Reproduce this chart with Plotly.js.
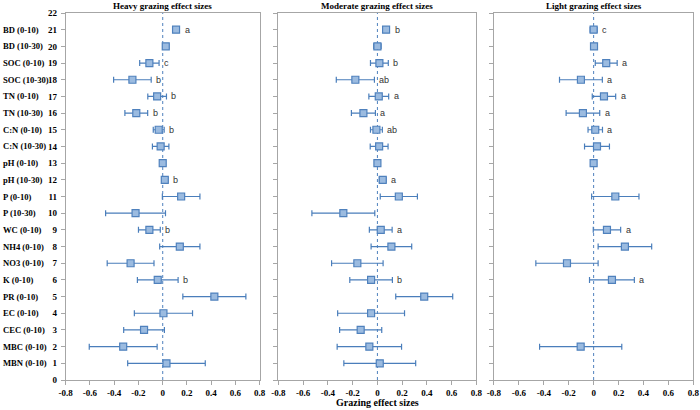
<!DOCTYPE html>
<html>
<head>
<meta charset="utf-8">
<script src="https://cdn.plot.ly/plotly-3.0.1.min.js"></script>
<style>
html,body{margin:0;padding:0;background:#fff;}
#chart{width:700px;height:410px;}
</style>
</head>
<body>
<div id="chart"></div>
<script>
// Rows listed from top (21) to bottom (1)
const rowNumbers = [21,20,19,18,17,16,15,14,13,12,11,10,9,8,7,6,5,4,3,2,1];
const categories = ["BD (0-10)","BD (10-30)","SOC (0-10)","SOC (10-30)","TN (0-10)","TN (10-30)",
  "C:N (0-10)","C:N (10-30)","pH (0-10)","pH (10-30)","P (0-10)","P (10-30)","WC (0-10)",
  "NH4 (0-10)","NO3 (0-10)","K (0-10)","PR (0-10)","EC (0-10)","CEC (0-10)","MBC (0-10)","MBN (0-10)"];

const heavyValues = [0.11,0.025,-0.11,-0.25,-0.046,-0.218,-0.033,-0.017,0.0,0.017,0.152,-0.224,-0.11,0.141,-0.265,-0.041,0.426,0.006,-0.154,-0.326,0.031];
const heavyErrors = [0.0,0.025,0.08,0.155,0.077,0.094,0.045,0.068,0.005,0.025,0.155,0.247,0.09,0.166,0.193,0.168,0.26,0.24,0.168,0.28,0.32];
const heavyLetters = ["a","","c","b","b","b","b","","","b","","","b","","","b","","","","",""];

const moderateValues = [0.07,0.0,0.016,-0.178,0.011,-0.113,-0.008,0.014,0.0,0.043,0.173,-0.275,0.027,0.113,-0.162,-0.051,0.378,-0.051,-0.135,-0.065,0.019];
const moderateErrors = [0.0,0.03,0.072,0.154,0.08,0.097,0.048,0.072,0.005,0.027,0.15,0.254,0.092,0.164,0.208,0.172,0.23,0.27,0.17,0.26,0.29];
const moderateLetters = ["b","","b","ab","a","a","ab","","","a","","","a","","","b","","","","",""];

const lightValues = [0.0,0.003,0.101,-0.102,0.083,-0.086,0.013,0.027,0.0,null,0.174,null,0.107,0.251,-0.214,0.147,null,null,null,-0.104,null];
const lightErrors = [0.028,0.015,0.088,0.172,0.094,0.135,0.058,0.1,0.005,null,0.19,null,0.11,0.215,0.25,0.18,null,null,null,0.33,null];
const lightLetters = ["c","","a","a","a","a","a","","","","","","a","","","a","","","","",""];

const panelTitles = ["Heavy grazing effect sizes","Moderate grazing effect sizes","Light grazing effect sizes"];
const xTitle = "Grazing effect sizes";
const xTickVals = [-0.8,-0.6,-0.4,-0.2,0,0.2,0.4,0.6,0.8];
const xTickText = ["-0.8","-0.6","-0.4","-0.2","0","0.2","0.4","0.6","0.8"];
const yTickVals = [0,1,2,3,4,5,6,7,8,9,10,11,12,13,14,15,16,17,18,19,20,21,22];

const panels = [
  {v: heavyValues, e: heavyErrors, l: heavyLetters},
  {v: moderateValues, e: moderateErrors, l: moderateLetters},
  {v: lightValues, e: lightErrors, l: lightLetters}
];
const domains = [[0.0939,0.3710],[0.3976,0.6807],[0.7057,0.9904]];

const serif = "Liberation Serif, Times New Roman, serif";
const sans = "Liberation Sans, Arial, sans-serif";
const frameColor = "#a6a6a6";

const traces = [];
const annotations = [];
const shapes = [];
const layout = {
  width: 700, height: 410,
  margin: {l: 0, r: 0, t: 13, b: 30, pad: 0},
  paper_bgcolor: "#ffffff", plot_bgcolor: "#ffffff",
  showlegend: false
};

panels.forEach((p, i) => {
  const sfx = i === 0 ? "" : String(i + 1);
  traces.push({
    type: "scatter", mode: "markers",
    x: p.v, y: rowNumbers,
    xaxis: "x" + sfx, yaxis: "y" + sfx,
    marker: {symbol: "square", size: 7, color: "#9bbbe0", line: {color: "#4f81bd", width: 1.2}},
    error_x: {type: "data", array: p.e, visible: true, color: "#4a7ebb", thickness: 1.2, width: 3},
    hoverinfo: "skip"
  });
  layout["xaxis" + sfx] = {
    domain: domains[i], range: [-0.8, 0.8], anchor: "y" + sfx,
    tickmode: "array", tickvals: xTickVals, ticktext: xTickText,
    showgrid: false, zeroline: false, showline: true, mirror: true,
    linecolor: frameColor, linewidth: 1,
    ticks: "outside", ticklen: 4, tickcolor: frameColor,
    tickfont: {family: serif, size: 9, color: "#000", weight: "bold"}
  };
  layout["yaxis" + sfx] = {
    domain: [0, 1], range: [0, 22], anchor: "x" + sfx,
    tickmode: "array", tickvals: yTickVals,
    showticklabels: i === 0,
    ticklabelstandoff: 2,
    showgrid: false, zeroline: false, showline: true, mirror: true,
    linecolor: frameColor, linewidth: 1,
    ticks: "outside", ticklen: 4, tickcolor: frameColor,
    tickfont: {family: serif, size: 9, color: "#000", weight: "bold"}
  };
  shapes.push({
    type: "line", xref: "x" + sfx, yref: "y" + sfx, x0: 0, x1: 0, y0: 0, y1: 22,
    line: {color: "#4f81bd", width: 1, dash: "dot"}, layer: "below"
  });
  annotations.push({
    xref: "paper", yref: "paper", x: (domains[i][0] + domains[i][1]) / 2, y: 1,
    xanchor: "center", yanchor: "bottom", yshift: 0, showarrow: false,
    text: panelTitles[i], font: {family: serif, size: 9, color: "#000", weight: "bold"}
  });
  p.l.forEach((letter, k) => {
    if (!letter) return;
    const hi = p.v[k] + Math.max(p.e[k] || 0, 0.03);
    annotations.push({
      xref: "x" + sfx, yref: "y" + sfx, x: hi, y: rowNumbers[k],
      xanchor: "left", yanchor: "middle", xshift: 3, showarrow: false,
      text: letter, font: {family: sans, size: 9, color: "#333"}
    });
  });
});

categories.forEach((c, k) => {
  annotations.push({
    xref: "paper", yref: "y", x: 0.002, y: rowNumbers[k],
    xanchor: "left", yanchor: "middle", showarrow: false,
    text: c, font: {family: serif, size: 8.6, color: "#000", weight: "bold"}
  });
});

annotations.push({
  xref: "paper", yref: "paper", x: (domains[1][0] + domains[1][1]) / 2, y: -0.06,
  xanchor: "center", yanchor: "middle", showarrow: false,
  text: xTitle, font: {family: serif, size: 10, color: "#000", weight: "bold"}
});

layout.annotations = annotations;
layout.shapes = shapes;

Plotly.newPlot("chart", traces, layout, {displayModeBar: false, staticPlot: true});
</script>
</body>
</html>
